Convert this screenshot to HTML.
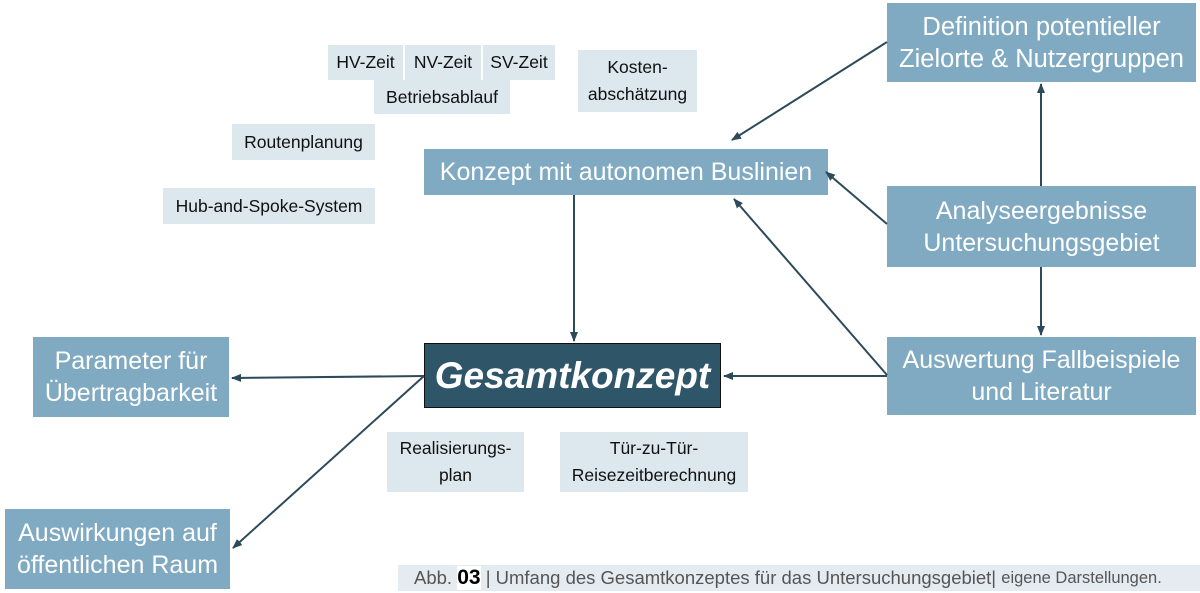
<!DOCTYPE html>
<html><head><meta charset="utf-8"><style>
body{margin:0;width:1200px;height:593px;background:#fff;position:relative;overflow:hidden;font-family:"Liberation Sans Narrow","Liberation Sans",sans-serif}
.b{position:absolute;display:flex;align-items:center;justify-content:center;text-align:center;white-space:nowrap;box-sizing:border-box}
.m{background:#7faac1;color:#fff;font-size:25px;line-height:32px}
.s{background:#dde7ee;color:#111;font-size:17.5px;line-height:27px}
svg{position:absolute;left:0;top:0}
</style></head><body>
<div class="b m" style="left:887px;top:3px;width:309px;height:79px;font-size:25.5px">Definition potentieller<br>Zielorte &amp; Nutzergruppen</div>
<div class="b m" style="left:887px;top:186px;width:309px;height:81px">Analyseergebnisse<br>Untersuchungsgebiet</div>
<div class="b m" style="left:887px;top:337px;width:309px;height:78px">Auswertung Fallbeispiele<br>und Literatur</div>
<div class="b m" style="left:424px;top:149px;width:404px;height:46px">Konzept mit autonomen Buslinien</div>
<div class="b m" style="left:33px;top:337px;width:196px;height:80px">Parameter für<br>Übertragbarkeit</div>
<div class="b m" style="left:5px;top:509px;width:225px;height:80px">Auswirkungen auf<br>öffentlichen Raum</div>
<div class="b" style="left:424px;top:343px;width:297px;height:65px;background:#2f5568;border:1.5px solid #111;color:#fff;font-size:37px;font-weight:bold;font-style:italic">Gesamtkonzept</div>
<div class="b s" style="left:328px;top:45px;width:75px;height:35px">HV-Zeit</div>
<div class="b s" style="left:405px;top:45px;width:76px;height:35px">NV-Zeit</div>
<div class="b s" style="left:483px;top:45px;width:72px;height:35px">SV-Zeit</div>
<div class="b s" style="left:374px;top:80px;width:136px;height:34px">Betriebsablauf</div>
<div class="b s" style="left:578px;top:50px;width:119px;height:62px">Kosten-<br>abschätzung</div>
<div class="b s" style="left:232px;top:124px;width:143px;height:36px">Routenplanung</div>
<div class="b s" style="left:163px;top:188px;width:212px;height:36px">Hub-and-Spoke-System</div>
<div class="b s" style="left:387px;top:432px;width:137px;height:60px">Realisierungs-<br>plan</div>
<div class="b s" style="left:560px;top:432px;width:188px;height:60px">Tür-zu-Tür-<br>Reisezeitberechnung</div>
<div class="b" style="left:398px;top:565px;width:802px;height:26px;background:#e4ecf2;color:#555;font-size:18.5px;justify-content:flex-start;padding-left:16px">Abb.&nbsp;<b style="color:#000;font-size:21px;background:#fff">03</b>&nbsp;| Umfang des Gesamtkonzeptes für das Untersuchungsgebiet|&nbsp;<span style="font-size:16.5px">eigene Darstellungen.</span></div>
<svg width="1200" height="593">
<defs><marker id="a" markerWidth="10" markerHeight="8" refX="9" refY="4" orient="auto" markerUnits="userSpaceOnUse"><path d="M0,0 L10,4 L0,8 Z" fill="#2d4a5a"/></marker></defs>
<g stroke="#2d4a5a" stroke-width="2" fill="none" marker-end="url(#a)">
<line x1="887" y1="42" x2="732" y2="140"/>
<line x1="887" y1="224" x2="826" y2="172"/>
<line x1="887" y1="375" x2="734" y2="199"/>
<line x1="1041" y1="186" x2="1041" y2="84"/>
<line x1="1041" y1="267" x2="1041" y2="335"/>
<line x1="574" y1="195" x2="574" y2="341"/>
<line x1="887" y1="376" x2="724" y2="376"/>
<line x1="424" y1="376" x2="232" y2="378"/>
<line x1="424" y1="376" x2="233" y2="548"/>
</g></svg>
</body></html>
